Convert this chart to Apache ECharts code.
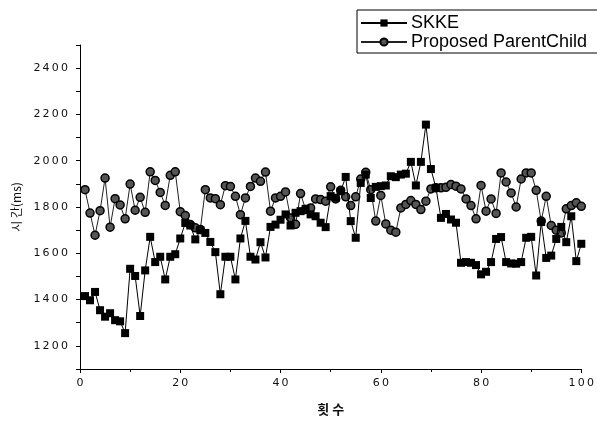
<!DOCTYPE html>
<html>
<head>
<meta charset="utf-8">
<script src="https://cdn.jsdelivr.net/npm/echarts@6/dist/echarts.min.js"></script>
<style>
html,body{margin:0;padding:0;background:#fff;overflow:hidden;}
#chart{width:597px;height:421px;}
</style>
</head>
<body>
<div id="chart"></div>
<script>
const seriesNames = ['SKKE', 'Proposed ParentChild'];
const skke = [1415,1397,1433,1354,1326,1341,1311,1306,1255,1533,
  1502,1329,1526,1671,1562,1585,1487,1585,1596,1664,
  1731,1720,1660,1700,1688,1649,1605,1423,1585,1585,
  1487,1664,1740,1585,1573,1648,1582,1714,1724,1745,
  1768,1720,1775,1782,1792,1768,1760,1732,1713,1847,
  1840,1868,1930,1739,1667,1904,1940,1839,1887,1890,
  1893,1933,1929,1940,1944,1995,1893,1995,2156,1964,
  1883,1753,1770,1746,1732,1559,1562,1559,1549,1509,
  1520,1562,1662,1670,1562,1556,1555,1562,1667,1671,
  1504,1735,1580,1590,1662,1714,1648,1760,1566,1641];
const proposed = [1875,1774,1678,1784,1925,1713,1836,1809,1749,1899,
  1786,1842,1777,1952,1915,1863,1807,1937,1952,1780,
  1763,1724,1710,1703,1875,1839,1836,1810,1892,1889,
  1846,1767,1839,1889,1925,1911,1951,1782,1839,1846,
  1865,1753,1725,1858,1789,1796,1835,1832,1825,1887,
  1835,1872,1844,1806,1844,1921,1950,1875,1739,1850,
  1727,1700,1691,1796,1811,1828,1811,1789,1825,1878,
  1883,1883,1885,1897,1890,1878,1835,1806,1749,1893,
  1782,1835,1772,1947,1908,1861,1800,1921,1947,1947,
  1872,1739,1846,1720,1700,1688,1792,1806,1818,1803];
const trials = skke.map((_, i) => i + 1);
const yLabels = [1200, 1400, 1600, 1800, 2000, 2200, 2400];
const xLabels = [0, 20, 40, 60, 80, 100];

const spaced = v => String(v).split('').join('\u2009');
const chart = echarts.init(document.getElementById('chart'));
const axisFont = {fontFamily: 'DejaVu Sans', fontSize: 11, color: '#111'};
chart.setOption({
  animation: false,
  backgroundColor: '#fff',
  grid: {left: 80, right: 13, top: 45, bottom: 51},
  legend: {
    left: 357, top: 10,
    orient: 'vertical',
    width: 300,
    borderColor: '#000', borderWidth: 1,
    padding: [4, 80, 2, 3],
    itemWidth: 46, itemHeight: 9, itemGap: 1,
    textStyle: {fontFamily: 'Liberation Sans', fontSize: 18, lineHeight: 18, color: '#000', padding: [0, 0, 0, -1]},
    data: seriesNames
  },
  xAxis: {
    type: 'value', min: 0, max: 100, interval: 20,
    name: '횟 수', nameLocation: 'middle', nameGap: 34,
    nameTextStyle: {fontFamily: 'Noto Sans CJK KR', fontSize: 13, fontWeight: 'bold', color: '#111'},
    axisLine: {lineStyle: {color: '#000', width: 1}},
    axisTick: {length: 4, lineStyle: {color: '#000'}},
    minorTick: {show: true, splitNumber: 2, length: 3, lineStyle: {color: '#000'}},
    splitLine: {show: false},
    axisLabel: Object.assign({margin: 9, formatter: v => xLabels.includes(v) ? spaced(v) : ''}, axisFont)
  },
  yAxis: {
    type: 'value', min: 1100, max: 2500, interval: 100,
    name: '시 간(ms)', nameLocation: 'middle', nameGap: 55, nameRotate: 90,
    nameTextStyle: {fontFamily: 'Noto Sans CJK KR', fontSize: 12, color: '#111'},
    axisLine: {show: true, lineStyle: {color: '#000', width: 1}},
    axisTick: {show: true, length: 4, lineStyle: {color: '#000'}},
    splitLine: {show: false},
    axisLabel: Object.assign({margin: 12, formatter: v => yLabels.includes(v) ? spaced(v) : ''}, axisFont)
  },
  series: [
    {
      name: seriesNames[0], type: 'line',
      data: trials.map((t, i) => [t, skke[i]]),
      symbol: 'rect', symbolSize: 8,
      lineStyle: {color: '#000', width: 1},
      itemStyle: {color: '#000'},
      z: 3
    },
    {
      name: seriesNames[1], type: 'line',
      data: trials.map((t, i) => [t, proposed[i]]),
      symbol: 'circle', symbolSize: 8,
      lineStyle: {color: '#222', width: 1},
      itemStyle: {color: '#555', borderColor: '#000', borderWidth: 1.5},
      z: 2
    }
  ]
});
</script>
</body>
</html>
